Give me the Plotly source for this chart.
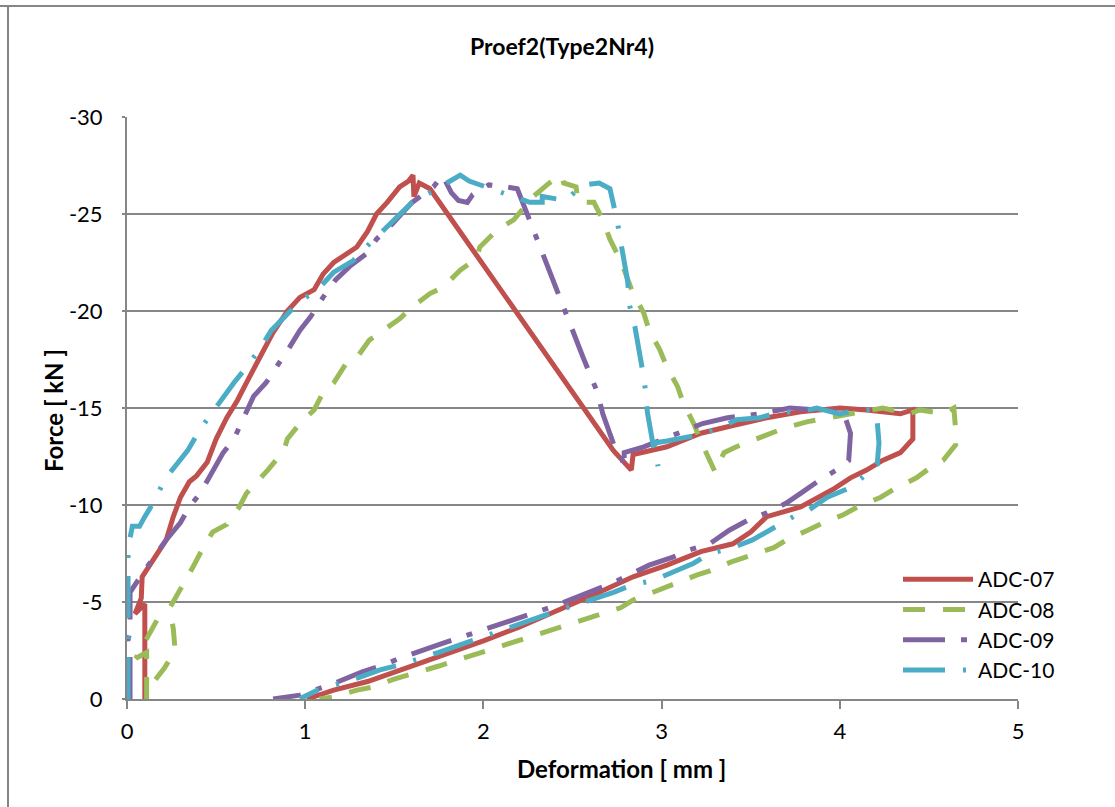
import plotly.graph_objects as go

# ---------------- data (deformation mm, force kN) ----------------
adc07_x = [0.10, 0.10, 0.10, 0.045, 0.08, 0.085, 0.12, 0.15, 0.22, 0.26, 0.30, 0.35, 0.39, 0.45, 0.50, 0.56, 0.62,
           0.67, 0.73, 0.82, 0.90, 0.97, 1.05, 1.10, 1.16, 1.22, 1.29, 1.35, 1.40, 1.46, 1.53, 1.58, 1.605, 1.61,
           1.64, 1.70, 2.73, 2.83, 2.84, 3.03, 3.22, 3.40, 3.59, 3.78, 4.00, 4.15, 4.34, 4.41, 4.41, 4.34, 4.24,
           4.15, 4.06, 3.96, 3.78, 3.59, 3.50, 3.40, 3.22, 3.03, 2.84, 2.65, 2.40, 2.20, 2.00, 1.75, 1.53, 1.35,
           1.16, 1.01]
adc07_y = [0.0, -2.5, -4.9, -4.4, -5.2, -6.3, -6.8, -7.2, -8.2, -9.4, -10.4, -11.2, -11.5, -12.2, -13.4, -14.5,
           -15.4, -16.3, -17.3, -18.9, -20.0, -20.7, -21.1, -21.9, -22.5, -22.9, -23.3, -24.1, -25.0, -25.6, -26.4,
           -26.7, -27.0, -25.9, -26.6, -26.3, -12.8, -11.8, -12.6, -13.0, -13.7, -14.1, -14.5, -14.8, -15.0, -14.9,
           -14.7, -14.9, -13.4, -12.7, -12.3, -11.8, -11.4, -10.8, -9.9, -9.4, -8.6, -8.0, -7.6, -6.9, -6.3, -5.5,
           -4.5, -3.7, -3.0, -2.2, -1.5, -0.9, -0.46, 0.0]

adc08_x = [0.11, 0.11, 0.11, 0.05, 0.12, 0.17, 0.22, None, 0.16, 0.21, 0.27, 0.26, 0.24, 0.31, 0.37, 0.41, 0.48,
           0.56, 0.63, 0.67, 0.73, 0.79, 0.88, 0.90, 0.97, 1.05, 1.10, 1.16, 1.23, 1.29, 1.36, 1.44, 1.53, 1.60,
           1.70, 1.77, 1.87, 1.96, 1.98, 2.08, 2.17, 2.28, 2.37, 2.44, 2.45, 2.52, 2.53, 2.62, 2.67, 2.71, 2.77,
           2.84, 2.90, 2.93, 2.99, 3.03, 3.09, 3.12, 3.18, 3.22, 3.27, 3.30, 3.35, 3.42, 3.53, 3.70, 3.82, 4.00,
           4.08, 4.24, 4.39, 4.45, 4.58, 4.64, 4.65, 4.65, 4.58, 4.52, 4.43, 4.30, 4.23, 4.10, 4.02, 3.91, 3.82,
           3.70, 3.63, 3.50, 3.40, 3.27, 3.20, 3.09, 2.97, 2.84, 2.77, 2.40, 2.00, 1.75, 1.49, 1.38, 1.29, 1.16,
           1.08]
adc08_y = [0.0, -1.5, -2.4, -2.1, -3.2, -4.1, -4.4, None, -1.0, -1.6, -2.5, -3.6, -4.7, -5.8, -6.8, -7.5, -8.6,
           -9.0, -9.9, -10.6, -11.2, -11.8, -12.8, -13.4, -14.2, -14.9, -15.8, -16.3, -17.3, -17.6, -18.5, -19.0,
           -19.6, -20.2, -20.9, -21.2, -22.1, -22.7, -23.3, -24.2, -24.7, -25.9, -26.6, -27.0, -26.6, -26.4, -25.6,
           -25.6, -24.7, -23.7, -22.6, -20.9, -19.9, -19.0, -18.0, -17.1, -16.1, -15.3, -14.2, -13.3, -12.3, -11.7,
           -12.7, -13.0, -13.4, -14.0, -14.3, -14.6, -14.7, -15.0, -14.7, -14.9, -14.7, -15.0, -13.9, -13.1, -12.3,
           -12.0, -11.4, -10.8, -10.4, -9.9, -9.5, -9.1, -8.7, -8.2, -7.8, -7.4, -7.1, -6.6, -6.4, -6.0, -5.6, -5.1,
           -4.7, -3.6, -2.45, -1.7, -1.0, -0.62, -0.46, -0.1, 0.0]

adc09_x = [0.017, 0.017, 0.005, 0.017, 0.017, 0.05, 0.09, 0.15, 0.22, 0.30, 0.35, 0.41, 0.48, 0.54, 0.60, 0.65,
           0.71, 0.78, 0.84, 0.91, 0.97, 1.03, 1.10, 1.17, 1.25, 1.35, 1.40, 1.49, 1.60, 1.72, 1.77, 1.82, 1.86,
           1.91, 1.94, 1.98, 2.03, 2.13, 2.19, 2.25, 2.30, 2.37, 2.43, 2.50, 2.56, 2.64, 2.67, 2.74, 2.77, 2.79,
           2.79, 2.90, 3.03, 3.23, 3.37, 3.55, 3.72, 3.89, 4.02, 4.06, 4.05, 3.98, 3.89, 3.78, 3.70, 3.59, 3.48,
           3.38, 3.27, 3.16, 3.06, 2.93, 2.73, 2.40, 2.00, 1.75, 1.53, 1.44, 1.32, 1.16, 0.97, 0.82]
adc09_y = [0.0, -2.5, -3.0, -3.5, -5.5, -6.0, -6.5, -7.3, -8.2, -9.1, -9.9, -10.6, -11.8, -12.7, -13.4, -14.4,
           -15.6, -16.3, -17.1, -18.1, -19.0, -19.7, -20.7, -21.6, -22.3, -23.0, -23.7, -24.5, -25.6, -26.4, -27.0,
           -26.1, -25.7, -25.6, -26.0, -26.2, -26.5, -26.4, -26.3, -24.9, -23.7, -22.0, -20.7, -18.9, -17.6, -15.8,
           -14.7, -12.9, -12.7, -11.9, -12.7, -13.0, -13.5, -14.2, -14.5, -14.7, -15.0, -14.9, -14.8, -13.7, -12.3,
           -11.8, -11.3, -10.6, -10.1, -9.6, -9.2, -8.7, -8.0, -7.7, -7.3, -6.9, -6.0, -4.8, -3.6, -2.8, -2.1, -1.75,
           -1.4, -0.8, -0.2, 0.0]

adc10_x = [0.006, 0.006, 0.006, 0.006, 0.03, 0.07, 0.10, 0.16, 0.21, 0.29, 0.34, 0.41, 0.48, 0.54, 0.60, 0.67,
           0.75, 0.81, 0.90, 0.97, 1.07, 1.16, 1.27, 1.32, 1.41, 1.49, 1.60, 1.70, 1.80, 1.87, 1.92, 2.05, 2.17,
           2.26, 2.33, 2.33, 2.46, 2.56, 2.65, 2.71, 2.72, 2.75, 2.77, 2.81, 2.82, 2.85, 2.89, 2.91, 2.92, 2.95,
           2.96, 2.98, 2.96, 3.03, 3.10, 3.20, 3.31, 3.42, 3.55, 3.67, 3.78, 3.87, 4.00, 4.10, 4.19, 4.21, 4.22,
           4.21, 4.15, 4.06, 3.93, 3.82, 3.74, 3.63, 3.51, 3.40, 3.27, 3.18, 3.06, 2.95, 2.84, 2.73, 2.40, 2.00,
           1.75, 1.53, 1.42, 1.30, 1.16, 1.07, 0.99, 0.97]
adc10_y = [0.0, -3.5, -6.8, -7.8, -8.9, -8.9, -9.4, -10.3, -11.3, -12.2, -12.8, -13.9, -14.8, -15.6, -16.3, -17.1,
           -18.1, -19.0, -19.8, -20.5, -21.1, -22.0, -22.6, -23.1, -23.9, -24.6, -25.6, -26.1, -26.6, -27.0, -26.7,
           -26.3, -25.9, -25.6, -25.6, -25.9, -25.7, -26.5, -26.6, -26.3, -25.9, -24.7, -23.6, -21.5, -20.3, -19.2,
           -17.1, -15.9, -14.8, -13.0, -12.7, -12.0, -13.2, -13.3, -13.4, -13.6, -13.9, -14.4, -14.5, -14.8, -14.8,
           -15.0, -14.7, -14.9, -14.9, -14.3, -13.2, -12.1, -11.6, -10.9, -10.4, -9.7, -9.4, -8.8, -8.2, -7.8, -7.5,
           -7.0, -6.5, -6.1, -5.9, -5.5, -4.5, -3.2, -2.4, -1.75, -1.5, -1.1, -0.72, -0.46, -0.1, 0.0]

series_names = ["ADC-07", "ADC-08", "ADC-09", "ADC-10"]
x_ticks = [0, 1, 2, 3, 4, 5]
y_ticks = [0, -5, -10, -15, -20, -25, -30]

# ---------------- figure ----------------
W, H = 1115, 807
L, R, T, B = 127, 97, 117, 108
FONT = "Lato, 'Open Sans', sans-serif"
GRID = "#868686"

styles = [
    dict(color="#C0504D", width=5, dash="solid"),
    dict(color="#9BBB59", width=5, dash="22px,18px"),
    dict(color="#8064A2", width=5, dash="42px,16px,6px,16px"),
    dict(color="#4BACC6", width=5, dash="42px,18px,3px,18px"),
]
xs = [adc07_x, adc08_x, adc09_x, adc10_x]
ys = [adc07_y, adc08_y, adc09_y, adc10_y]

fig = go.Figure()
for name, x, y, st in zip(series_names, xs, ys, styles):
    fig.add_trace(go.Scatter(x=x, y=y, name=name, mode="lines", line=st, connectgaps=False))

pw, ph = W - L - R, H - T - B


def px(xp):
    return (xp - L) / pw


def py(yp):
    return (H - B - yp) / ph


fig.update_layout(
    width=W, height=H,
    margin=dict(l=L, r=R, t=T, b=B),
    paper_bgcolor="white", plot_bgcolor="white",
    font=dict(family=FONT, size=22, color="black"),
    showlegend=True,
    legend=dict(x=px(898), y=py(559), xanchor="left", yanchor="top",
                bgcolor="rgba(0,0,0,0)", font=dict(size=21, family=FONT),
                itemwidth=70, tracegroupgap=0),
    xaxis=dict(range=[0, 5], tickvals=x_ticks, ticktext=[str(v) for v in x_ticks],
               showgrid=False, zeroline=False, showline=True, linecolor=GRID, linewidth=2,
               ticks="outside", ticklen=8, tickwidth=2, tickcolor=GRID, ticklabelstandoff=4,
               tickfont=dict(size=22, family=FONT), fixedrange=True),
    yaxis=dict(range=[0, -30], tickvals=y_ticks, ticktext=[str(v) for v in y_ticks],
               showgrid=True, gridcolor=GRID, gridwidth=2, zeroline=False,
               showline=True, linecolor=GRID, linewidth=2,
               ticks="outside", ticklen=3, tickwidth=2, tickcolor=GRID, ticklabelstandoff=15,
               tickfont=dict(size=22, family=FONT), fixedrange=True),
    annotations=[
        dict(text="<b>Proef2(Type2Nr4)</b>", x=px(562), y=py(46), xref="paper", yref="paper",
             showarrow=False, font=dict(size=23, family=FONT), xanchor="center", yanchor="middle"),
        dict(text="<b>Deformation [ mm ]</b>", x=px(621), y=py(768), xref="paper", yref="paper",
             showarrow=False, font=dict(size=24, family=FONT), xanchor="center", yanchor="middle"),
        dict(text="<b>Force [ kN ]</b>", x=px(53), y=py(411), xref="paper", yref="paper",
             showarrow=False, font=dict(size=24, family=FONT), textangle=-90,
             xanchor="center", yanchor="middle"),
    ],
    shapes=[
        dict(type="line", xref="paper", yref="paper", x0=px(0), x1=px(W), y0=py(6), y1=py(6),
             line=dict(color=GRID, width=2)),
        dict(type="line", xref="paper", yref="paper", x0=px(8), x1=px(8), y0=py(6), y1=py(H),
             line=dict(color=GRID, width=2)),
    ],
)

fig.write_html("out.html")
